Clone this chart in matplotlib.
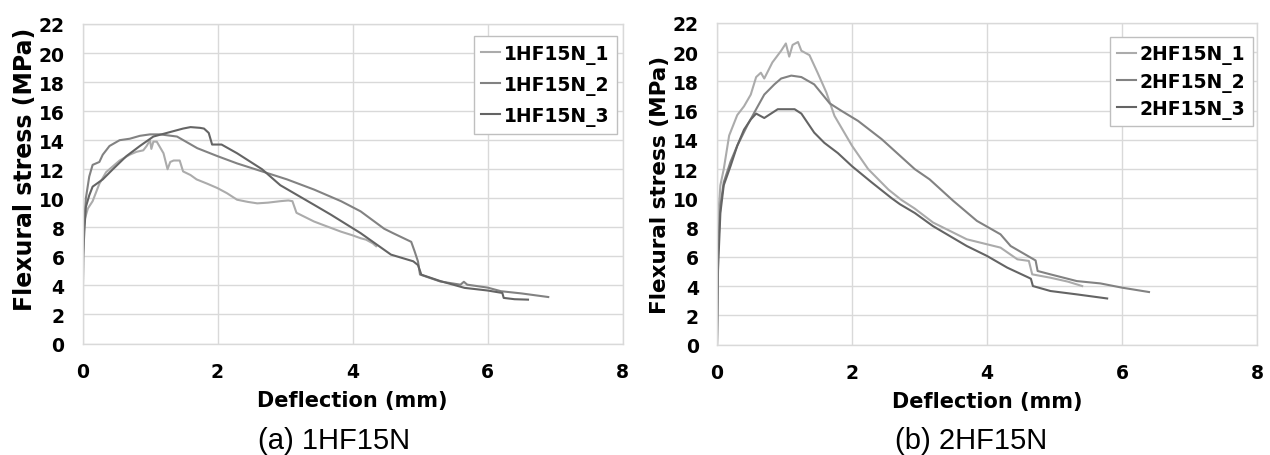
import matplotlib
matplotlib.use("Agg")
import matplotlib.pyplot as plt

# ---------------- data ----------------
# (a) 1HF15N
a_labels = ["1HF15N_1", "1HF15N_2", "1HF15N_3"]
a1_x = [0, 0.01, 0.03, 0.08, 0.15, 0.25, 0.35, 0.45, 0.55, 0.7, 0.8, 0.9, 0.95, 1.0, 1.02, 1.05,
        1.1, 1.15, 1.2, 1.26, 1.3, 1.35, 1.44, 1.49, 1.6, 1.69, 1.85, 2.0, 2.14, 2.29, 2.45, 2.59,
        2.75, 2.93, 3.05, 3.11, 3.17, 3.3, 3.43, 3.6, 3.83, 4.0, 4.12, 4.2, 4.3, 4.35]
a1_y = [0, 6.5, 8.5, 9.3, 9.8, 11.0, 11.8, 12.2, 12.6, 13.0, 13.2, 13.3, 13.6, 14.0, 13.4, 13.9,
        13.9, 13.5, 13.1, 12.0, 12.5, 12.6, 12.6, 11.85, 11.6, 11.3, 11.0, 10.7, 10.35, 9.9, 9.75, 9.65,
        9.7, 9.8, 9.85, 9.8, 9.0, 8.7, 8.4, 8.1, 7.7, 7.45, 7.25, 7.15, 6.9, 6.7]
a2_x = [0, 0.01, 0.02, 0.05, 0.1, 0.15, 0.2, 0.25, 0.3, 0.4, 0.55, 0.7, 0.85, 1.0, 1.15, 1.4, 1.7,
        2.0, 2.29, 2.66, 3.03, 3.43, 3.83, 4.12, 4.47, 4.6, 4.87, 4.92, 4.97, 5.0, 5.3, 5.6, 5.65,
        5.7, 6.0, 6.2, 6.5, 6.9]
a2_y = [0, 6.0, 8.0, 10.0, 11.5, 12.3, 12.4, 12.5, 13.0, 13.6, 14.0, 14.1, 14.3, 14.4, 14.4, 14.25,
        13.45, 12.9, 12.4, 11.85, 11.3, 10.6, 9.8, 9.1, 7.9, 7.6, 7.0, 6.35, 5.65, 4.75, 4.27, 4.05,
        4.25, 4.05, 3.85, 3.6, 3.45, 3.2]
a3_x = [0, 0.01, 0.03, 0.05, 0.1, 0.15, 0.3, 0.45, 0.65, 0.85, 1.05, 1.25, 1.49, 1.6, 1.74, 1.8,
        1.87, 1.92, 2.06, 2.29, 2.66, 2.93, 3.43, 3.68, 4.12, 4.57, 4.9, 4.97, 5.02, 5.3, 5.66,
        6.0, 6.22, 6.24, 6.4, 6.6]
a3_y = [0, 6.0, 8.0, 9.4, 10.2, 10.8, 11.3, 12.0, 12.9, 13.6, 14.25, 14.5, 14.8, 14.9, 14.85, 14.8,
        14.5, 13.7, 13.7, 13.1, 12.0, 10.9, 9.55, 8.87, 7.6, 6.12, 5.66, 5.4, 4.74, 4.3, 3.83,
        3.65, 3.48, 3.14, 3.05, 3.02]

# (b) 2HF15N
b_labels = ["2HF15N_1", "2HF15N_2", "2HF15N_3"]
b1_x = [0, 0.01, 0.015, 0.05, 0.1, 0.18, 0.3, 0.4, 0.5, 0.58, 0.65, 0.7, 0.82, 0.95, 1.02, 1.07,
        1.12, 1.2, 1.25, 1.37, 1.49, 1.62, 1.74, 2.0, 2.24, 2.54, 2.73, 2.93, 3.2, 3.7, 4.2, 4.45,
        4.62, 4.67, 4.94, 5.2, 5.41]
b1_y = [0, 5.0, 8.6, 10.9, 12.0, 14.3, 15.7, 16.3, 17.1, 18.3, 18.6, 18.2, 19.3, 20.1, 20.6, 19.7,
        20.5, 20.7, 20.1, 19.8, 18.6, 17.25, 15.65, 13.6, 12.0, 10.6, 9.9, 9.3, 8.35, 7.2, 6.63, 5.83,
        5.72, 4.8, 4.57, 4.3, 4.0]
b2_x = [0, 0.01, 0.015, 0.05, 0.1, 0.2, 0.3, 0.45, 0.58, 0.7, 0.85, 0.95, 1.1, 1.25, 1.44, 1.67,
        1.84, 2.09, 2.44, 2.93, 3.15, 3.5, 3.85, 4.2, 4.35, 4.69, 4.72, 4.75, 4.94, 5.33, 5.68, 6.0, 6.4]
b2_y = [0, 4.0, 6.3, 9.5, 11.1, 12.5, 13.6, 15.0, 16.1, 17.1, 17.8, 18.2, 18.4, 18.3, 17.8, 16.5,
        16.0, 15.3, 14.05, 12.0, 11.3, 9.83, 8.46, 7.54, 6.74, 5.83, 5.75, 5.03, 4.8, 4.34, 4.18, 3.89, 3.59]
b3_x = [0, 0.01, 0.015, 0.05, 0.1, 0.2, 0.3, 0.4, 0.5, 0.58, 0.7, 0.8, 0.9, 1.15, 1.25, 1.44, 1.59,
        1.79, 2.0, 2.29, 2.59, 2.71, 2.93, 3.2, 3.7, 4.0, 4.3, 4.62, 4.65, 4.68, 4.94, 5.33, 5.78]
b3_y = [0, 3.5, 5.1, 9.0, 10.9, 12.2, 13.6, 14.7, 15.4, 15.8, 15.5, 15.8, 16.1, 16.1, 15.8, 14.5, 13.8,
        13.1, 12.2, 11.1, 10.0, 9.6, 9.0, 8.1, 6.74, 6.06, 5.26, 4.57, 4.5, 4.0, 3.66, 3.43, 3.15]

x_ticks = [0, 2, 4, 6, 8]
y_ticks = [0, 2, 4, 6, 8, 10, 12, 14, 16, 18, 20, 22]
x_label = "Deflection (mm)"
y_label = "Flexural stress (MPa)"
captions = ["(a) 1HF15N", "(b) 2HF15N"]

# ---------------- style ----------------
colors = ["#ababab", "#828282", "#646464"]
grid_col = "#d9d9d9"

fig = plt.figure(figsize=(12.7, 4.56), dpi=100)
axA = fig.add_axes([82.5 / 1270, 1 - 344.5 / 456, 540 / 1270, 319.5 / 456])
axB = fig.add_axes([717 / 1270, 1 - 345.5 / 456, 540 / 1270, 321.5 / 456])

panels = [
    (axA, [(a1_x, a1_y), (a2_x, a2_y), (a3_x, a3_y)], a_labels, 17, 0.548, 0.6,
     (0.9898, 0.9624)),
    (axB, [(b1_x, b1_y), (b2_x, b2_y), (b3_x, b3_y)], b_labels, 15.5, 0.50, 0.38,
     (0.9926, 0.9565)),
]

for ax, series, labels, ylsize, ylc, lspace, anchor in panels:
    for (xs, ys), lab, c in zip(series, labels, colors):
        ax.plot(xs, ys, color=c, lw=1.5, label=lab)
    ax.set_xlim(0, 8)
    ax.set_ylim(0, 22)
    ax.set_xticks(x_ticks)
    ax.set_yticks(y_ticks)
    ax.grid(True, color=grid_col, lw=1.0)
    ax.set_axisbelow(True)
    for sp in ax.spines.values():
        sp.set_color(grid_col)
        sp.set_linewidth(1.0)
    ax.tick_params(length=0, labelsize=13.5, pad=13)
    for t in ax.get_xticklabels() + ax.get_yticklabels():
        t.set_fontweight("bold")
    ax.set_xlabel(x_label, fontsize=15, fontweight="bold", labelpad=7)
    ax.set_ylabel(y_label, fontsize=ylsize, fontweight="bold", va="center")
    ax.yaxis.set_label_coords(-0.106, ylc)
    leg = ax.legend(loc="upper right", bbox_to_anchor=anchor, borderaxespad=0,
                    prop={"size": 13.5, "weight": "bold"}, handlelength=1.0,
                    handletextpad=0.2, labelspacing=lspace, borderpad=0.4,
                    fancybox=False, framealpha=1, edgecolor="#bfbfbf")
    leg.get_frame().set_linewidth(1.0)

fig.text(334 / 1270, 1 - 449 / 456, captions[0], ha="center", va="baseline",
         fontsize=21, family="Liberation Sans")
fig.text(971 / 1270, 1 - 449 / 456, captions[1], ha="center", va="baseline",
         fontsize=21, family="Liberation Sans")

fig.savefig("out.png", dpi=100)
